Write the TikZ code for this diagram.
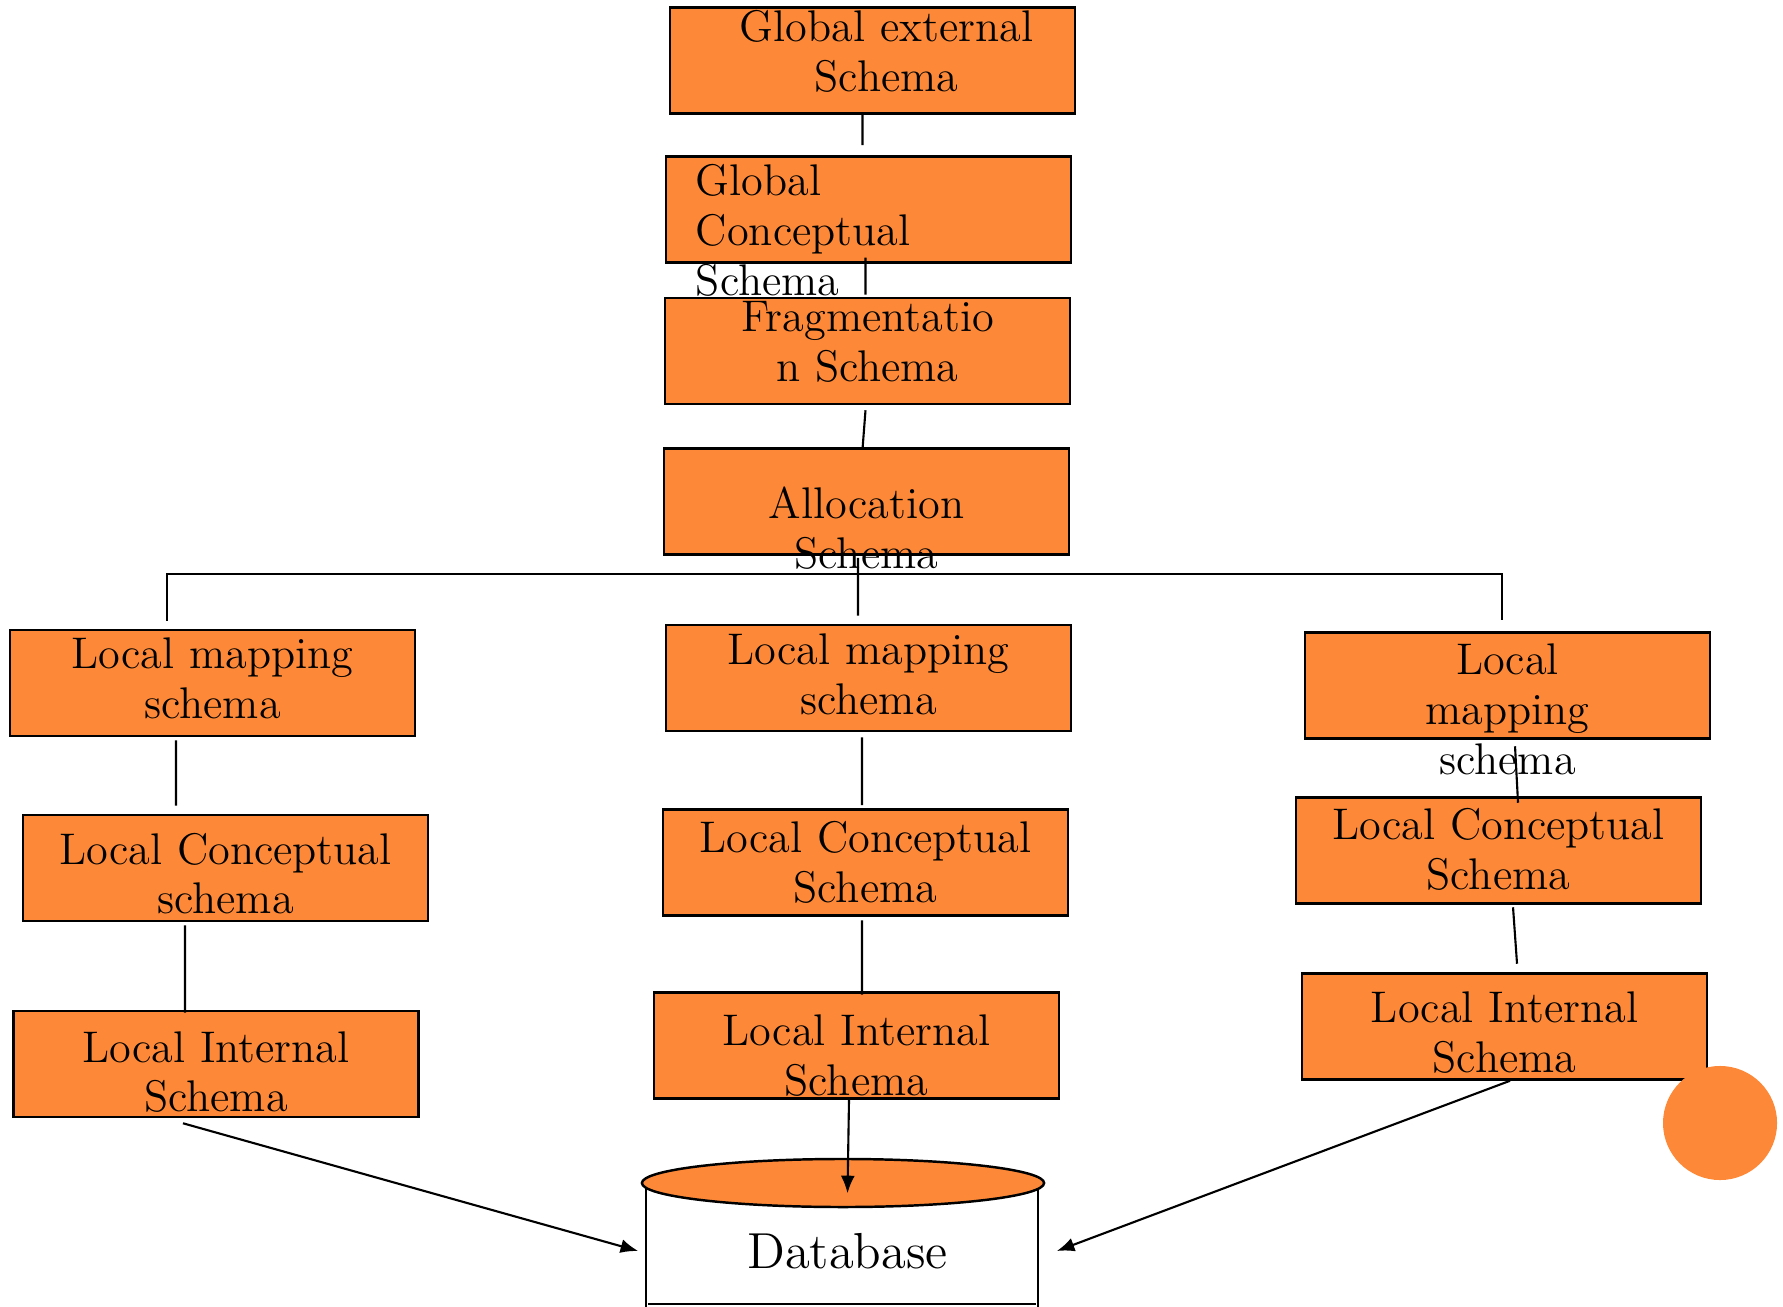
\documentclass[tikz,border=0pt]{standalone}
\usetikzlibrary{arrows.meta}
\definecolor{schemaorange}{RGB}{253,137,56}
\newcommand{\boxfont}{\fontsize{12.6}{14.2}\selectfont}
\tikzset{
	schemabox/.style={draw, line width=0.7pt, fill=schemaorange, minimum width=4.05cm, minimum height=1.06cm,
		inner sep=0pt, text width=4.05cm, align=center, font=\boxfont,
		text height={(#1-3)*0.01cm}, text depth={(103-#1)*0.01cm}},
	link/.style={line width=0.6pt},
	feed/.style={line width=0.6pt, -{Latex[length=5pt,width=4pt]}}
}
\begin{document}
\begin{tikzpicture}[x=0.01cm, y=-0.01cm]
	\useasboundingbox (0,0) rectangle (1783,1307);

	% global levels
	\node[schemabox=34] (GE) at (872.5,60.5) {\hspace*{0.28cm}Global external\\\hspace*{0.28cm}Schema};
	\node[schemabox=39, text width=3.45cm, inner xsep=0.3cm, align=left] (GC) at (868.5,209.5) {Global\\Conceptual\\Schema};
	\node[schemabox=34] (Frag) at (867.5,351) {Fragmentatio\\n Schema};
	\node[schemabox=70] (Alloc) at (866.5,501.5) {Allocation\\Schema};

	% three local sites
	\node[schemabox=39] (LM1) at (212.5,683) {Local mapping\\schema};
	\node[schemabox=49] (LC1) at (225.5,868) {Local Conceptual\\schema};
	\node[schemabox=51] (LI1) at (216,1064) {Local Internal\\Schema};
	\node[schemabox=40] (LM2) at (868.5,678) {Local mapping\\schema};
	\node[schemabox=43] (LC2) at (865.5,862.5) {Local Conceptual\\Schema};
	\node[schemabox=53] (LI2) at (856.5,1045.5) {Local Internal\\Schema};
	\node[schemabox=42] (LM3) at (1507.5,685.5) {Local\\mapping\\schema};
	\node[schemabox=42] (LC3) at (1498.5,850.5) {Local Conceptual\\Schema};
	\node[schemabox=49] (LI3) at (1504.5,1026.5) {Local Internal\\Schema};

	% database cylinder
	\draw[link] (646,1183) -- (646,1307);
	\draw[link] (1038,1183) -- (1038,1307);
	\draw[link] (648,1304) -- (1036,1304);
	\draw[line width=0.7pt, fill=schemaorange] (843,1183) ellipse [x radius=2.01cm, y radius=0.24cm];
	\node[minimum width=4.17cm, minimum height=1.14cm, inner sep=0pt, font=\fontsize{14.4}{17}\selectfont] (db) at (847.5,1251) {Database};

	\fill[schemaorange] (1720,1123) circle (0.57cm);

	% connectors
	\draw[link] ([xshift=-0.1cm]GE.south) -- ([xshift=-0.06cm,yshift=0.1cm]GC.north);
	\draw[link] ([xshift=-0.03cm,yshift=0.06cm]GC.south) -- ([xshift=-0.02cm,yshift=0.02cm]Frag.north);
	\draw[link] ([xshift=-0.02cm,yshift=-0.05cm]Frag.south) -- ([xshift=-0.04cm,yshift=-0.02cm]Alloc.north);
	\coordinate (bus) at (858,574);
	\draw[link] ([xshift=-0.085cm,yshift=-0.02cm]Alloc.south) -- ([xshift=-0.105cm,yshift=0.08cm]LM2.north);
	\draw[link] ([xshift=-0.455cm,yshift=0.08cm]LM1.north) |- (bus);
	\draw[link] (bus) -| ([xshift=-0.055cm,yshift=0.11cm]LM3.north);

	\draw[link] ([xshift=-0.365cm,yshift=-0.03cm]LM1.south) -- ([xshift=-0.495cm,yshift=0.08cm]LC1.north);
	\draw[link] ([xshift=-0.405cm,yshift=-0.03cm]LC1.south) -- ([xshift=-0.31cm,yshift=-0.03cm]LI1.north);
	\draw[link] ([xshift=-0.065cm,yshift=-0.05cm]LM2.south) -- ([xshift=-0.035cm,yshift=0.03cm]LC2.north);
	\draw[link] ([xshift=-0.035cm,yshift=-0.035cm]LC2.south) -- ([xshift=0.055cm,yshift=-0.035cm]LI2.north);
	\draw[link] ([xshift=0.075cm,yshift=-0.065cm]LM3.south) -- ([xshift=0.195cm,yshift=-0.065cm]LC3.north);
	\draw[link] ([xshift=0.145cm,yshift=-0.025cm]LC3.south) -- ([xshift=0.125cm,yshift=0.085cm]LI3.north);

	% into the database
	\draw[feed] ([xshift=-0.33cm,yshift=-0.05cm]LI1.south) -- (db.west);
	\draw[feed] ([xshift=-0.075cm]LI2.south) -- (db.north);
	\draw[feed] ([xshift=0.055cm]LI3.south) -- (db.east);
\end{tikzpicture}
\end{document}
